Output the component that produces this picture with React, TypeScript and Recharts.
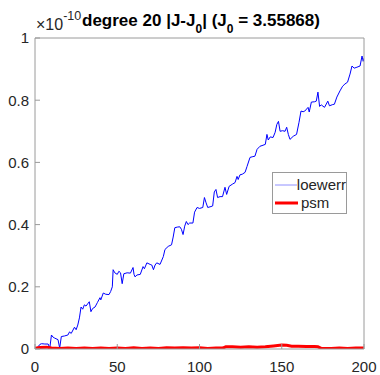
import React from "react";
import { Legend, Line, LineChart, XAxis, YAxis } from "recharts";

// values in units of 1e-10
const loewerrPoints: [number, number][] = [
  [0, 0.0], [1, 0.003], [2, 0.008], [3, 0.015], [4, 0.017], [6, 0.016], [8, 0.016],
  [9, 0.003], [10, 0.045], [11, 0.038], [12, 0.035], [14, 0.03], [15, 0.003], [16, 0.04],
  [18, 0.042], [20, 0.045], [21, 0.055], [22, 0.05], [24, 0.07], [25, 0.062], [26, 0.077],
  [27, 0.1], [28, 0.135], [29, 0.128], [30, 0.142], [31, 0.138], [32, 0.145], [33, 0.152],
  [34, 0.12], [35, 0.13], [36.5, 0.135], [38, 0.15], [39.5, 0.165], [40, 0.158], [41.5, 0.18],
  [43, 0.176], [45, 0.175], [46, 0.185], [47, 0.2], [47.5, 0.255], [48.5, 0.245], [50, 0.24],
  [51, 0.25], [52, 0.245], [53, 0.21], [54, 0.242], [56, 0.245], [58, 0.244], [59.6, 0.262],
  [60.2, 0.24], [60.8, 0.232], [62, 0.238], [64, 0.24], [65.7, 0.265], [66.5, 0.258],
  [68, 0.277], [70, 0.272], [71, 0.27], [72, 0.255], [73, 0.27], [74, 0.277], [76, 0.272],
  [78, 0.297], [79, 0.32], [81, 0.33], [83, 0.335], [84, 0.36], [85, 0.39], [86.5, 0.392],
  [88, 0.393], [89, 0.385], [90, 0.368], [91, 0.395], [92, 0.41], [93, 0.4], [94, 0.405],
  [96, 0.405], [97, 0.44], [98.5, 0.455], [100, 0.452], [102, 0.455], [103, 0.487],
  [104, 0.47], [105, 0.455], [107, 0.458], [108, 0.46], [109, 0.505], [110, 0.513],
  [111, 0.487], [112.5, 0.49], [114, 0.49], [115.5, 0.52], [116.5, 0.497], [118, 0.523],
  [120, 0.53], [121.6, 0.535], [122.8, 0.555], [123.5, 0.545], [124.6, 0.56], [126, 0.562],
  [127.7, 0.568], [128.9, 0.587], [130.7, 0.616], [132, 0.618], [133.7, 0.62], [135, 0.642],
  [136.8, 0.652], [138, 0.654], [140, 0.658], [141, 0.69], [141.8, 0.672], [143, 0.682],
  [144.7, 0.68], [146, 0.697], [147, 0.722], [148, 0.732], [149, 0.7], [150.5, 0.702],
  [152, 0.7], [153, 0.713], [154, 0.69], [155, 0.674], [157, 0.684], [159, 0.69],
  [160.5, 0.729], [161.7, 0.765], [163, 0.763], [164, 0.765], [166, 0.777], [166.7, 0.762],
  [168, 0.794], [170, 0.795], [171, 0.797], [172, 0.826], [173, 0.78], [174, 0.785],
  [176, 0.777], [178, 0.797], [179, 0.782], [181, 0.786], [182, 0.787], [183.5, 0.81],
  [185.4, 0.83], [187, 0.845], [188.4, 0.852], [190, 0.858], [191.5, 0.884], [192.7, 0.91],
  [194, 0.903], [195.7, 0.906], [197.6, 0.91], [198.8, 0.942], [199.5, 0.925], [200, 0.935],
];

const psmPoints: [number, number][] = [
  [0, 0.002], [3, 0.005], [7, 0.006], [10, 0.003], [15, 0.002], [20, 0.003], [25, 0.002],
  [30, 0.003], [35, 0.002], [40, 0.003], [45, 0.002], [50, 0.003], [55, 0.002], [60, 0.004],
  [65, 0.002], [70, 0.003], [75, 0.002], [80, 0.004], [85, 0.003], [90, 0.004], [95, 0.003],
  [100, 0.004], [105, 0.002], [110, 0.003], [114, 0.003], [116, 0.007], [120, 0.007],
  [125, 0.006], [130, 0.007], [135, 0.006], [140, 0.007], [145, 0.01], [150, 0.013],
  [153, 0.012], [156, 0.009], [160, 0.009], [165, 0.008], [170, 0.008], [172, 0.007],
  [174, 0.002], [180, 0.002], [185, 0.003], [190, 0.002], [195, 0.003], [200, 0.003],
];

const xTicks = [0, 50, 100, 150, 200];
const yTicks = [0, 0.2, 0.4, 0.6, 0.8, 1];

const loewerrData = loewerrPoints.map(([x, y]) => ({ x, y }));
const psmData = psmPoints.map(([x, y]) => ({ x, y }));

const FONT = "'Liberation Sans', Arial, Helvetica, sans-serif";
const AXIS = "#9a9a9a";
const TEXT = "#262626";

const legendStyles: Record<string, { stroke: string; width: number }> = {
  loewerr: { stroke: "#9090ff", width: 1 },
  psm: { stroke: "#ff0000", width: 3 },
};

function MatlabLegend(props: any) {
  const payload = props.payload ?? [];
  return (
    <div
      style={{
        width: 75,
        height: 42,
        border: `1px solid ${AXIS}`,
        background: "#fff",
        fontFamily: FONT,
        fontSize: 15,
        color: TEXT,
        boxSizing: "border-box",
        paddingTop: 3,
      }}
    >
      {payload.map((p: any) => {
        const s = legendStyles[p.value] ?? { stroke: p.color, width: 1 };
        return (
          <div key={p.value} style={{ display: "flex", alignItems: "center", height: 18 }}>
            <svg width={27} height={18} style={{ marginLeft: 1 }}>
              <line x1={1} x2={24} y1={9} y2={9} stroke={s.stroke} strokeWidth={s.width} />
            </svg>
            <span style={{ lineHeight: "18px" }}>{p.value}</span>
          </div>
        );
      })}
    </div>
  );
}

export default function App() {
  return (
    <div style={{ position: "absolute", left: 0, top: 0, width: 380, height: 375, background: "#fff" }}>
      <LineChart
        width={380}
        height={375}
        margin={{ top: 37, right: 15, left: 0, bottom: 0 }}
        style={{ fontFamily: FONT }}
      >
        <XAxis
          xAxisId="bottom"
          type="number"
          dataKey="x"
          domain={[0, 200]}
          ticks={xTicks}
          allowDataOverflow
          height={26}
          stroke={AXIS}
          tickSize={-5}
          tickMargin={17}
          tick={{ fill: TEXT, fontSize: 15 }}
        />
        <XAxis
          xAxisId="top"
          orientation="top"
          type="number"
          dataKey="x"
          domain={[0, 200]}
          ticks={xTicks}
          height={1}
          stroke={AXIS}
          tickSize={-5}
          tick={false}
        />
        <YAxis
          yAxisId="left"
          type="number"
          domain={[0, 1]}
          ticks={yTicks}
          allowDataOverflow
          width={35}
          stroke={AXIS}
          tickSize={-5}
          tickMargin={11}
          tick={{ fill: TEXT, fontSize: 15 }}
        />
        <YAxis
          yAxisId="right"
          orientation="right"
          type="number"
          domain={[0, 1]}
          ticks={yTicks}
          width={1}
          stroke={AXIS}
          tickSize={-5}
          tick={false}
        />
        <Legend
          content={<MatlabLegend />}
          layout="vertical"
          align="center"
          verticalAlign="middle"
          wrapperStyle={{ position: "absolute", left: 272, top: 172, width: 75, height: 42 }}
        />
        <Line
          xAxisId="bottom"
          yAxisId="left"
          data={loewerrData}
          dataKey="y"
          name="loewerr"
          type="linear"
          stroke="#0000ff"
          strokeWidth={1}
          dot={false}
          isAnimationActive={false}
        />
        <Line
          xAxisId="bottom"
          yAxisId="left"
          data={psmData}
          dataKey="y"
          name="psm"
          type="linear"
          stroke="#ff0000"
          strokeWidth={3}
          dot={false}
          isAnimationActive={false}
        />
      </LineChart>
      <svg
        width={380}
        height={40}
        style={{ position: "absolute", left: 0, top: 0, pointerEvents: "none", fontFamily: FONT }}
      >
        <text x={36} y={30} fontSize={16} fill={TEXT}>
          ×10
          <tspan fontSize={12.5} dy={-10}>-10</tspan>
        </text>
        <text x={201} y={26} fontSize={17} fontWeight="bold" fill="#000" textAnchor="middle">
          degree 20 |J-J
          <tspan fontSize={12} dy={7}>0</tspan>
          <tspan dy={-7}>| (J</tspan>
          <tspan fontSize={12} dy={7}>0</tspan>
          <tspan dy={-7}> = 3.55868)</tspan>
        </text>
      </svg>
    </div>
  );
}
